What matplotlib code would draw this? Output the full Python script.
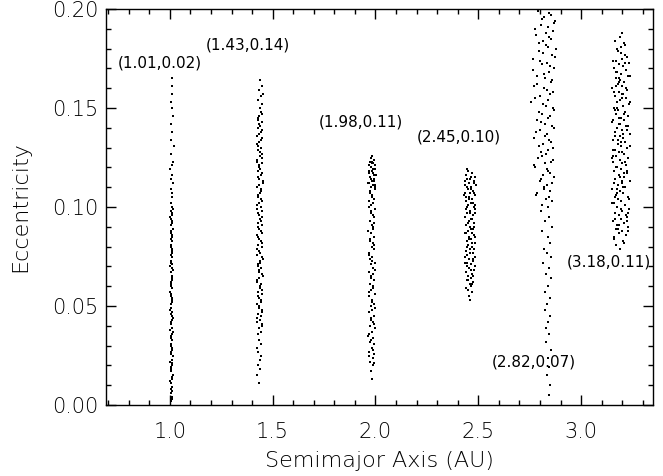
import matplotlib
matplotlib.use("Agg")
import matplotlib.pyplot as plt
from matplotlib.ticker import MultipleLocator

# cluster at a ~ 1.01
a_1 = [1.006, 1.011, 1.004, 1.009, 1.013, 1.007, 1.002, 1.010, 1.015, 1.005,
       1.008, 1.012, 1.003, 1.009, 1.014, 1.006, 1.011, 1.004, 1.008, 1.013,
       1.007, 1.010, 1.003, 1.012, 1.006, 1.009, 1.014, 1.005, 1.011, 1.008,
       1.004, 1.010, 1.013, 1.007, 1.002, 1.011, 1.008, 1.005, 1.012, 1.009,
       1.006, 1.014, 1.003, 1.010, 1.007, 1.012, 1.005, 1.009, 1.013, 1.006,
       1.010, 1.004, 1.011, 1.008, 1.014, 1.006, 1.012, 1.003, 1.009, 1.015,
       1.007, 1.013, 1.005, 1.017, 1.009, 1.003, 1.014, 1.008, 1.018, 1.006,
       1.012, 1.004, 1.016, 1.010, 1.007, 1.013, 1.011, 1.009,
       1.012, 1.005, 1.010, 1.007, 1.013, 1.004, 1.011, 1.008, 1.014, 1.006,
       1.009, 1.003, 1.012, 1.008, 1.005, 1.013, 1.010, 1.004, 1.011, 1.007,
       1.013, 1.005, 1.010, 1.008, 1.012, 1.006, 1.011, 1.009, 1.007, 1.012]
e_1 = [0.002, 0.004, 0.006, 0.007, 0.009, 0.011, 0.012, 0.014, 0.015, 0.017,
       0.019, 0.020, 0.022, 0.023, 0.025, 0.027, 0.028, 0.030, 0.031, 0.033,
       0.035, 0.036, 0.038, 0.039, 0.041, 0.043, 0.044, 0.046, 0.047, 0.049,
       0.051, 0.052, 0.054, 0.055, 0.057, 0.059, 0.060, 0.062, 0.063, 0.065,
       0.067, 0.068, 0.070, 0.071, 0.073, 0.075, 0.076, 0.078, 0.079, 0.081,
       0.083, 0.084, 0.086, 0.087, 0.089, 0.091, 0.093, 0.095, 0.097, 0.099,
       0.102, 0.105, 0.109, 0.112, 0.116, 0.119, 0.123, 0.127, 0.131, 0.134,
       0.138, 0.142, 0.146, 0.150, 0.153, 0.157, 0.161, 0.165,
       0.003, 0.008, 0.013, 0.018, 0.021, 0.026, 0.029, 0.034, 0.037, 0.042,
       0.045, 0.048, 0.053, 0.056, 0.061, 0.064, 0.069, 0.072, 0.077, 0.080,
       0.085, 0.088, 0.092, 0.094, 0.096, 0.098, 0.100, 0.107, 0.114, 0.121]

# cluster at a ~ 1.43
a_2 = [1.428, 1.441, 1.434, 1.447, 1.425, 1.438, 1.444, 1.431, 1.450, 1.436,
       1.423, 1.442, 1.433, 1.448, 1.429, 1.439, 1.445, 1.426, 1.435, 1.451,
       1.432, 1.443, 1.427, 1.440, 1.437, 1.449, 1.424, 1.434, 1.446, 1.430,
       1.441, 1.436, 1.422, 1.444, 1.433, 1.450, 1.428, 1.439, 1.447, 1.431,
       1.425, 1.442, 1.435, 1.448, 1.429, 1.438, 1.445, 1.423, 1.436, 1.451,
       1.432, 1.443, 1.427, 1.440, 1.434, 1.449, 1.426, 1.437, 1.446, 1.430,
       1.441, 1.424, 1.435, 1.447, 1.433, 1.444, 1.428, 1.439, 1.450, 1.431,
       1.436, 1.443,
       1.432, 1.426, 1.440, 1.429, 1.437, 1.444, 1.431, 1.425, 1.441, 1.435,
       1.438, 1.447, 1.430, 1.444, 1.452, 1.435, 1.449, 1.437,
       1.446, 1.426, 1.449, 1.432, 1.443, 1.427, 1.450, 1.437, 1.423, 1.447,
       1.433, 1.429, 1.451, 1.440, 1.424, 1.446, 1.431, 1.448, 1.427, 1.442,
       1.435, 1.450, 1.425, 1.445, 1.430, 1.441, 1.452, 1.428, 1.447, 1.434,
       1.425, 1.449, 1.438, 1.429, 1.444, 1.423, 1.450, 1.433, 1.427, 1.446]
e_2 = [0.036, 0.037, 0.039, 0.040, 0.042, 0.043, 0.045, 0.046, 0.048, 0.050,
       0.051, 0.053, 0.054, 0.056, 0.057, 0.059, 0.061, 0.062, 0.064, 0.065,
       0.067, 0.069, 0.070, 0.072, 0.073, 0.075, 0.076, 0.078, 0.080, 0.081,
       0.083, 0.084, 0.086, 0.088, 0.089, 0.091, 0.092, 0.094, 0.095, 0.097,
       0.099, 0.100, 0.102, 0.103, 0.105, 0.107, 0.108, 0.110, 0.111, 0.113,
       0.114, 0.116, 0.118, 0.119, 0.121, 0.122, 0.124, 0.126, 0.127, 0.129,
       0.130, 0.132, 0.133, 0.135, 0.137, 0.138, 0.140, 0.141, 0.143, 0.145,
       0.146, 0.148,
       0.011, 0.015, 0.018, 0.020, 0.023, 0.025, 0.027, 0.029, 0.031, 0.033,
       0.150, 0.152, 0.154, 0.156, 0.157, 0.159, 0.161, 0.164,
       0.041, 0.044, 0.047, 0.049, 0.052, 0.055, 0.058, 0.060, 0.063, 0.066,
       0.068, 0.071, 0.074, 0.077, 0.079, 0.082, 0.085, 0.087, 0.090, 0.093,
       0.096, 0.098, 0.101, 0.104, 0.106, 0.109, 0.112, 0.115, 0.117, 0.120,
       0.123, 0.125, 0.128, 0.131, 0.134, 0.136, 0.139, 0.142, 0.144, 0.147]

# cluster at a ~ 1.98
a_3 = [1.984, 1.978, 1.990, 1.972, 1.986, 1.995, 1.969, 1.981, 1.992, 1.975,
       1.988, 1.966, 1.983, 1.997, 1.974, 1.989, 1.979, 1.993, 1.968, 1.985,
       1.976, 1.991, 1.982, 1.971, 1.996, 1.980, 1.987, 1.973, 1.994, 1.977,
       1.986, 1.967, 1.990, 1.979, 1.998, 1.975, 1.984, 1.970, 1.992, 1.981,
       1.988, 1.974, 1.995, 1.978, 1.965, 1.989, 1.983, 1.972, 1.993, 1.986,
       1.976, 1.999, 1.980, 1.969, 1.991, 1.985, 1.973, 1.996, 1.979, 1.988,
       1.967, 1.982, 1.994, 1.975, 2.001, 1.986, 1.971, 1.990, 1.978, 1.997,
       1.983, 1.973, 1.992, 1.985,
       1.993, 1.971, 1.987, 1.980, 1.968, 1.991, 1.976, 1.996, 1.984, 1.970,
       1.989, 1.977, 1.998, 1.982, 1.967, 1.992, 1.974, 1.986, 1.995, 1.979,
       1.969, 1.990, 1.983, 1.974, 1.998, 1.966, 1.992, 1.978, 1.972, 1.995,
       1.969, 1.985, 1.999, 1.976, 1.967, 1.989, 1.981, 1.994, 1.978, 1.996]
e_3 = [0.013, 0.017, 0.020, 0.022, 0.024, 0.026, 0.027, 0.029, 0.031, 0.032,
       0.034, 0.035, 0.037, 0.039, 0.040, 0.042, 0.043, 0.045, 0.047, 0.048,
       0.050, 0.051, 0.053, 0.055, 0.056, 0.058, 0.059, 0.061, 0.063, 0.064,
       0.066, 0.067, 0.069, 0.071, 0.072, 0.074, 0.075, 0.077, 0.079, 0.080,
       0.082, 0.083, 0.085, 0.087, 0.088, 0.090, 0.091, 0.093, 0.095, 0.096,
       0.098, 0.099, 0.101, 0.103, 0.104, 0.106, 0.107, 0.109, 0.110, 0.111,
       0.112, 0.113, 0.114, 0.115, 0.116, 0.117, 0.118, 0.119, 0.120, 0.121,
       0.122, 0.123, 0.124, 0.126,
       0.021, 0.025, 0.028, 0.033, 0.036, 0.041, 0.044, 0.049, 0.052, 0.057,
       0.060, 0.065, 0.068, 0.073, 0.076, 0.081, 0.084, 0.089, 0.092, 0.097,
       0.100, 0.102, 0.105, 0.108, 0.110, 0.112, 0.113, 0.114, 0.115, 0.116,
       0.117, 0.118, 0.119, 0.120, 0.121, 0.122, 0.123, 0.124, 0.125, 0.111]

# cluster at a ~ 2.45
a_4 = [2.462, 2.455, 2.471, 2.448, 2.466, 2.458, 2.475, 2.444, 2.463, 2.452,
       2.469, 2.441, 2.478, 2.457, 2.447, 2.467, 2.437, 2.473, 2.454, 2.482,
       2.445, 2.461, 2.476, 2.439, 2.459, 2.470, 2.450, 2.484, 2.443, 2.465,
       2.456, 2.479, 2.436, 2.468, 2.449, 2.474, 2.460, 2.440, 2.481, 2.453,
       2.466, 2.435, 2.472, 2.446, 2.485, 2.458, 2.438, 2.477, 2.451, 2.464,
       2.442, 2.470, 2.455, 2.483, 2.437, 2.461, 2.474, 2.448, 2.467, 2.434,
       2.457, 2.479, 2.444, 2.463, 2.441, 2.452, 2.446,
       2.442, 2.470, 2.451, 2.476, 2.439, 2.466, 2.483, 2.447, 2.472, 2.437,
       2.459, 2.480, 2.443, 2.469, 2.453, 2.486, 2.440, 2.463, 2.478, 2.449,
       2.471, 2.436, 2.461, 2.484, 2.445, 2.475, 2.457, 2.439, 2.481, 2.466,
       2.447, 2.477, 2.437, 2.459, 2.484, 2.442, 2.470, 2.488, 2.433, 2.486]
e_4 = [0.053, 0.055, 0.057, 0.058, 0.060, 0.061, 0.062, 0.063, 0.064, 0.065,
       0.066, 0.067, 0.068, 0.069, 0.070, 0.071, 0.072, 0.073, 0.074, 0.075,
       0.076, 0.077, 0.077, 0.078, 0.079, 0.080, 0.081, 0.082, 0.083, 0.084,
       0.085, 0.086, 0.087, 0.087, 0.088, 0.089, 0.090, 0.091, 0.092, 0.093,
       0.094, 0.095, 0.096, 0.097, 0.097, 0.098, 0.099, 0.100, 0.101, 0.102,
       0.103, 0.104, 0.105, 0.106, 0.107, 0.107, 0.108, 0.109, 0.110, 0.111,
       0.112, 0.113, 0.114, 0.115, 0.116, 0.118, 0.119,
       0.059, 0.061, 0.063, 0.065, 0.067, 0.068, 0.070, 0.072, 0.074, 0.075,
       0.077, 0.079, 0.080, 0.082, 0.084, 0.085, 0.087, 0.089, 0.090, 0.092,
       0.094, 0.095, 0.097, 0.099, 0.100, 0.102, 0.104, 0.105, 0.107, 0.109,
       0.110, 0.112, 0.113, 0.114, 0.115, 0.116, 0.117, 0.111, 0.106, 0.101]

# sparse cluster at a ~ 2.82
a_5 = [2.790, 2.853, 2.822, 2.871, 2.805, 2.838, 2.862, 2.781, 2.846, 2.815,
       2.829, 2.876, 2.797, 2.858, 2.768, 2.834, 2.811, 2.867, 2.843, 2.787,
       2.826, 2.852, 2.773, 2.818, 2.861, 2.802, 2.840, 2.755, 2.830, 2.869,
       2.812, 2.848, 2.785, 2.823, 2.857, 2.798, 2.836, 2.772, 2.845, 2.817,
       2.863, 2.807, 2.831, 2.790, 2.852, 2.825, 2.778, 2.841, 2.814, 2.866,
       2.800, 2.834, 2.821, 2.849, 2.783, 2.828, 2.860, 2.809, 2.838,
       2.806, 2.842, 2.825, 2.858, 2.812, 2.837, 2.849, 2.820, 2.833, 2.855,
       2.815, 2.846, 2.829, 2.852, 2.839, 2.823, 2.848, 2.835, 2.826, 2.851,
       2.840, 2.831, 2.844, 2.829, 2.853, 2.837, 2.846, 2.834, 2.849, 2.842,
       2.842, 2.808, 2.866, 2.775, 2.829, 2.855, 2.794, 2.837, 2.813, 2.872,
       2.801, 2.847, 2.765, 2.821, 2.859, 2.788, 2.833, 2.850, 2.776, 2.816,
       2.864, 2.796, 2.841, 2.805, 2.869, 2.782, 2.826, 2.854, 2.793, 2.839,
       2.810, 2.861, 2.771, 2.832, 2.847, 2.803, 2.857, 2.819, 2.786, 2.844]
e_5 = [0.199, 0.197, 0.196, 0.194, 0.192, 0.191, 0.189, 0.187, 0.186, 0.184,
       0.182, 0.180, 0.179, 0.177, 0.175, 0.173, 0.172, 0.170, 0.168, 0.166,
       0.165, 0.163, 0.161, 0.160, 0.158, 0.156, 0.154, 0.153, 0.151, 0.149,
       0.147, 0.146, 0.144, 0.142, 0.141, 0.139, 0.137, 0.135, 0.134, 0.132,
       0.130, 0.128, 0.127, 0.125, 0.123, 0.122, 0.120, 0.118, 0.116, 0.115,
       0.113, 0.111, 0.110, 0.108, 0.106, 0.104, 0.103, 0.101, 0.100,
       0.098, 0.095, 0.093, 0.090, 0.088, 0.085, 0.082, 0.079, 0.077, 0.075,
       0.072, 0.069, 0.066, 0.064, 0.060, 0.057, 0.054, 0.051, 0.048, 0.045,
       0.042, 0.039, 0.036, 0.032, 0.028, 0.024, 0.019, 0.015, 0.010, 0.005,
       0.198, 0.195, 0.193, 0.190, 0.188, 0.185, 0.183, 0.181, 0.178, 0.176,
       0.174, 0.171, 0.169, 0.167, 0.164, 0.162, 0.159, 0.157, 0.155, 0.152,
       0.150, 0.148, 0.145, 0.143, 0.140, 0.138, 0.136, 0.133, 0.131, 0.129,
       0.126, 0.124, 0.121, 0.119, 0.117, 0.114, 0.112, 0.109, 0.107, 0.105]

# cluster at a ~ 3.18
a_6 = [3.190, 3.172, 3.205, 3.161, 3.218, 3.183, 3.197, 3.168, 3.226, 3.177,
       3.209, 3.155, 3.193, 3.221, 3.186, 3.164, 3.201, 3.232, 3.175, 3.212,
       3.158, 3.195, 3.181, 3.228, 3.169, 3.204, 3.188, 3.150, 3.215, 3.179,
       3.198, 3.236, 3.166, 3.207, 3.184, 3.223, 3.160, 3.192, 3.174, 3.217,
       3.200, 3.153, 3.187, 3.230, 3.171, 3.210, 3.182, 3.163, 3.224, 3.196,
       3.178, 3.214, 3.157, 3.203, 3.189, 3.238, 3.167, 3.199, 3.176, 3.220,
       3.185, 3.148, 3.208, 3.194, 3.227, 3.170, 3.213, 3.181, 3.159, 3.202,
       3.233, 3.173, 3.191, 3.216, 3.165, 3.206, 3.184, 3.225, 3.152, 3.197,
       3.178, 3.211, 3.188, 3.168, 3.229, 3.193, 3.175, 3.219, 3.162, 3.204,
       3.186, 3.234, 3.171, 3.199, 3.214, 3.180, 3.196, 3.208, 3.187, 3.200,
       3.210, 3.158, 3.227, 3.183, 3.165, 3.219, 3.195, 3.151, 3.234, 3.177,
       3.206, 3.162, 3.190, 3.225, 3.171, 3.213, 3.156, 3.199, 3.237, 3.180,
       3.167, 3.221, 3.188, 3.153, 3.208, 3.174, 3.231, 3.197, 3.160, 3.216,
       3.184, 3.239, 3.169, 3.203, 3.154, 3.222, 3.192, 3.176, 3.212, 3.165,
       3.181, 3.229, 3.163, 3.198, 3.218, 3.157, 3.205, 3.186, 3.240, 3.170,
       3.223, 3.175, 3.209, 3.150, 3.193, 3.228, 3.166, 3.201, 3.182, 3.215]
e_6 = [0.079, 0.081, 0.083, 0.084, 0.086, 0.087, 0.088, 0.089, 0.090, 0.091,
       0.092, 0.093, 0.094, 0.095, 0.096, 0.097, 0.098, 0.099, 0.100, 0.101,
       0.102, 0.103, 0.104, 0.105, 0.106, 0.107, 0.108, 0.109, 0.110, 0.111,
       0.112, 0.113, 0.114, 0.115, 0.116, 0.117, 0.118, 0.119, 0.120, 0.121,
       0.122, 0.123, 0.124, 0.125, 0.126, 0.127, 0.128, 0.129, 0.130, 0.131,
       0.132, 0.133, 0.134, 0.135, 0.136, 0.137, 0.138, 0.139, 0.140, 0.141,
       0.142, 0.143, 0.144, 0.145, 0.146, 0.147, 0.148, 0.149, 0.150, 0.151,
       0.152, 0.153, 0.154, 0.155, 0.156, 0.157, 0.158, 0.159, 0.160, 0.161,
       0.162, 0.163, 0.164, 0.165, 0.166, 0.167, 0.168, 0.169, 0.170, 0.171,
       0.172, 0.173, 0.174, 0.175, 0.177, 0.179, 0.181, 0.183, 0.186, 0.188,
       0.082, 0.085, 0.088, 0.091, 0.094, 0.096, 0.099, 0.102, 0.104, 0.107,
       0.110, 0.112, 0.115, 0.118, 0.120, 0.123, 0.126, 0.128, 0.131, 0.134,
       0.136, 0.139, 0.142, 0.144, 0.147, 0.150, 0.152, 0.155, 0.158, 0.160,
       0.163, 0.166, 0.168, 0.171, 0.174, 0.176, 0.178, 0.180, 0.182, 0.184,
       0.089, 0.097, 0.105, 0.113, 0.121, 0.129, 0.137, 0.145, 0.153, 0.161,
       0.093, 0.109, 0.117, 0.125, 0.133, 0.141, 0.149, 0.157, 0.165, 0.173]

labels = ["(1.01,0.02)", "(1.43,0.14)", "(1.98,0.11)",
          "(2.45,0.10)", "(2.82,0.07)", "(3.18,0.11)"]
label_a = [0.952, 1.378, 1.930, 2.404, 2.772, 3.136]
label_e = [0.173, 0.182, 0.143, 0.1355, 0.022, 0.0725]

plt.rcParams['font.family'] = ['DejaVu Sans']

fig = plt.figure(figsize=(6.63, 4.76), dpi=100)
ax = fig.add_axes([0.160, 0.149, 0.825, 0.832])

dense = [(a_1, e_1), (a_2, e_2), (a_3, e_3), (a_4, e_4), (a_6, e_6)]
for a, e in dense:
    ax.plot(a, e, 's', color='k', markersize=2.0, markeredgewidth=0)
ax.plot(a_5, e_5, 's', color='k', markersize=1.8, markeredgewidth=0)

for txt, x, y in zip(labels, label_a, label_e):
    ax.text(x, y, txt, fontsize=11, ha='center', va='center')

ax.set_xlim(0.69, 3.35)
ax.set_ylim(0.0, 0.2)
ax.xaxis.set_major_locator(MultipleLocator(0.5))
ax.xaxis.set_minor_locator(MultipleLocator(0.1))
ax.yaxis.set_major_locator(MultipleLocator(0.05))
ax.yaxis.set_minor_locator(MultipleLocator(0.01))
ax.xaxis.set_major_formatter(plt.FormatStrFormatter('%.1f'))
ax.yaxis.set_major_formatter(plt.FormatStrFormatter('%.2f'))
ax.tick_params(which='both', direction='in', top=True, right=True, width=1)
ax.tick_params(which='major', length=7.5)
ax.tick_params(which='minor', length=3.8)
ax.tick_params(axis='x', which='major', pad=12, labelsize=15)
ax.tick_params(axis='y', which='major', pad=5.5, labelsize=15)
for lbl in ax.get_xticklabels() + ax.get_yticklabels():
    lbl.set_fontweight('light')
for s in ax.spines.values():
    s.set_linewidth(1)

ax.set_xlabel('Semimajor Axis (AU)', fontsize=16, fontweight='light', labelpad=7)
ax.set_ylabel('Eccentricity', fontsize=16, fontweight='light', labelpad=16)

fig.savefig('out.png', dpi=100)
